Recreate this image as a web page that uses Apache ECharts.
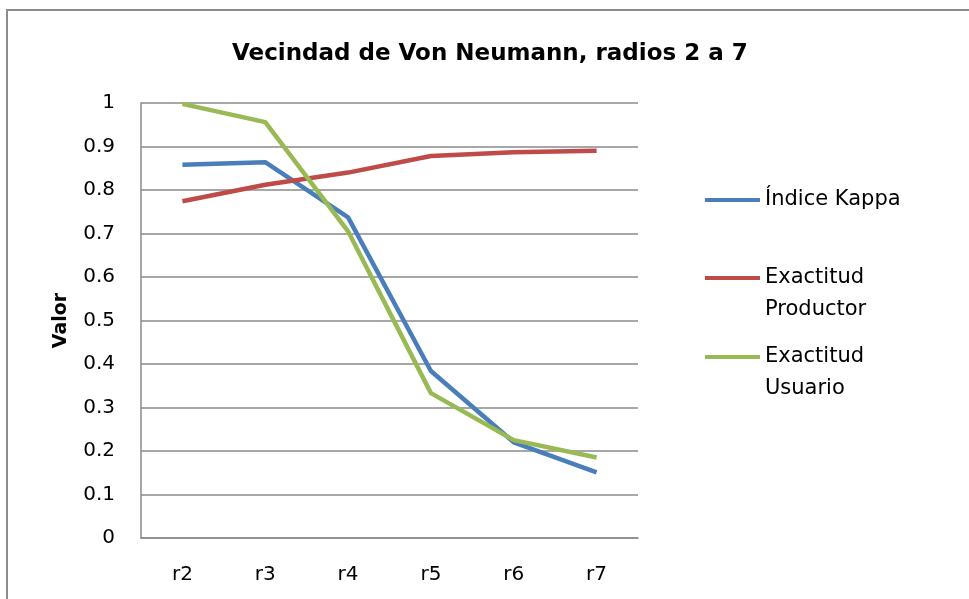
<!DOCTYPE html>
<html>
<head>
<meta charset="utf-8">
<script src="https://cdn.jsdelivr.net/npm/echarts@6/dist/echarts.min.js"></script>
<style>
  html, body { margin: 0; padding: 0; background: #fff; }
  #main { width: 969px; height: 599px; }
</style>
</head>
<body>
<div id="main"></div>
<script>
// radios
var categories = ['r2', 'r3', 'r4', 'r5', 'r6', 'r7']
var kappa = [0.858, 0.864, 0.737, 0.384, 0.220, 0.151]
var productor = [0.774, 0.812, 0.840, 0.878, 0.887, 0.890]
var usuario = [0.998, 0.956, 0.705, 0.333, 0.225, 0.185]

var font = 'DejaVu Sans'
var gridGray = '#8a8a8a'

// una leyenda por serie para colocar cada una como en el original
const legendFor = (name, top, twoLines) => {
  return {
    orient: 'vertical',
    left: 705,
    top: top,
    padding: 0,
    itemWidth: 55,
    itemHeight: 4,
    icon: 'rect',
    selectedMode: false,
    // linea vacia arriba para que el icono quede a la altura de la primera linea
    formatter: n => (twoLines ? '\n' : '') + n,
    textStyle: {
      fontFamily: font,
      fontSize: 21,
      color: '#000',
      lineHeight: 32
    },
    data: [name]
  }
}

const lineSeries = (name, data, color) => {
  return {
    name: name,
    type: 'line',
    data: data,
    symbol: 'none',
    smooth: false,
    color: color,
    lineStyle: { width: 4.5, color: color }
  }
}

var chart = echarts.init(document.getElementById('main'))
chart.setOption({
  animation: false,
  backgroundColor: '#fff',
  title: {
    text: 'Vecindad de Von Neumann, radios 2 a 7',
    left: 232,
    top: 43,
    padding: 0,
    textStyle: { fontFamily: font, fontSize: 23, fontWeight: 'bold', color: '#000' }
  },
  legend: [
    legendFor('Índice Kappa', 184, false),
    legendFor('Exactitud\nProductor', 230, true),
    legendFor('Exactitud\nUsuario', 309, true)
  ],
  grid: { left: 141, top: 103, right: 331, bottom: 61, containLabel: false },
  xAxis: {
    type: 'category',
    data: categories,
    boundaryGap: true,
    axisLine: { lineStyle: { color: gridGray, width: 1.5 } },
    axisTick: { show: false },
    axisLabel: { fontFamily: font, fontSize: 20, color: '#000', margin: 27 }
  },
  yAxis: {
    type: 'value',
    min: 0,
    max: 1,
    interval: 0.1,
    name: 'Valor',
    nameLocation: 'middle',
    nameGap: 70,
    nameRotate: 90,
    nameTextStyle: { fontFamily: font, fontSize: 19, fontWeight: 'bold', color: '#000' },
    axisLine: { show: true, lineStyle: { color: gridGray, width: 1.5 } },
    axisTick: { show: false },
    splitLine: { lineStyle: { color: gridGray, width: 1.5 } },
    axisLabel: {
      fontFamily: font,
      fontSize: 20,
      color: '#000',
      margin: 26,
      formatter: v => String(Math.round(v * 10) / 10)
    }
  },
  series: [
    lineSeries('Índice Kappa', kappa, '#4a7ebb'),
    lineSeries('Exactitud\nProductor', productor, '#be4b48'),
    lineSeries('Exactitud\nUsuario', usuario, '#98b954')
  ],
  graphic: [{
    type: 'rect',
    shape: { x: 7, y: 10, width: 1000, height: 700 },
    style: { fill: 'none', stroke: '#8c8c8c', lineWidth: 2 },
    silent: true
  }]
})
</script>
</body>
</html>
